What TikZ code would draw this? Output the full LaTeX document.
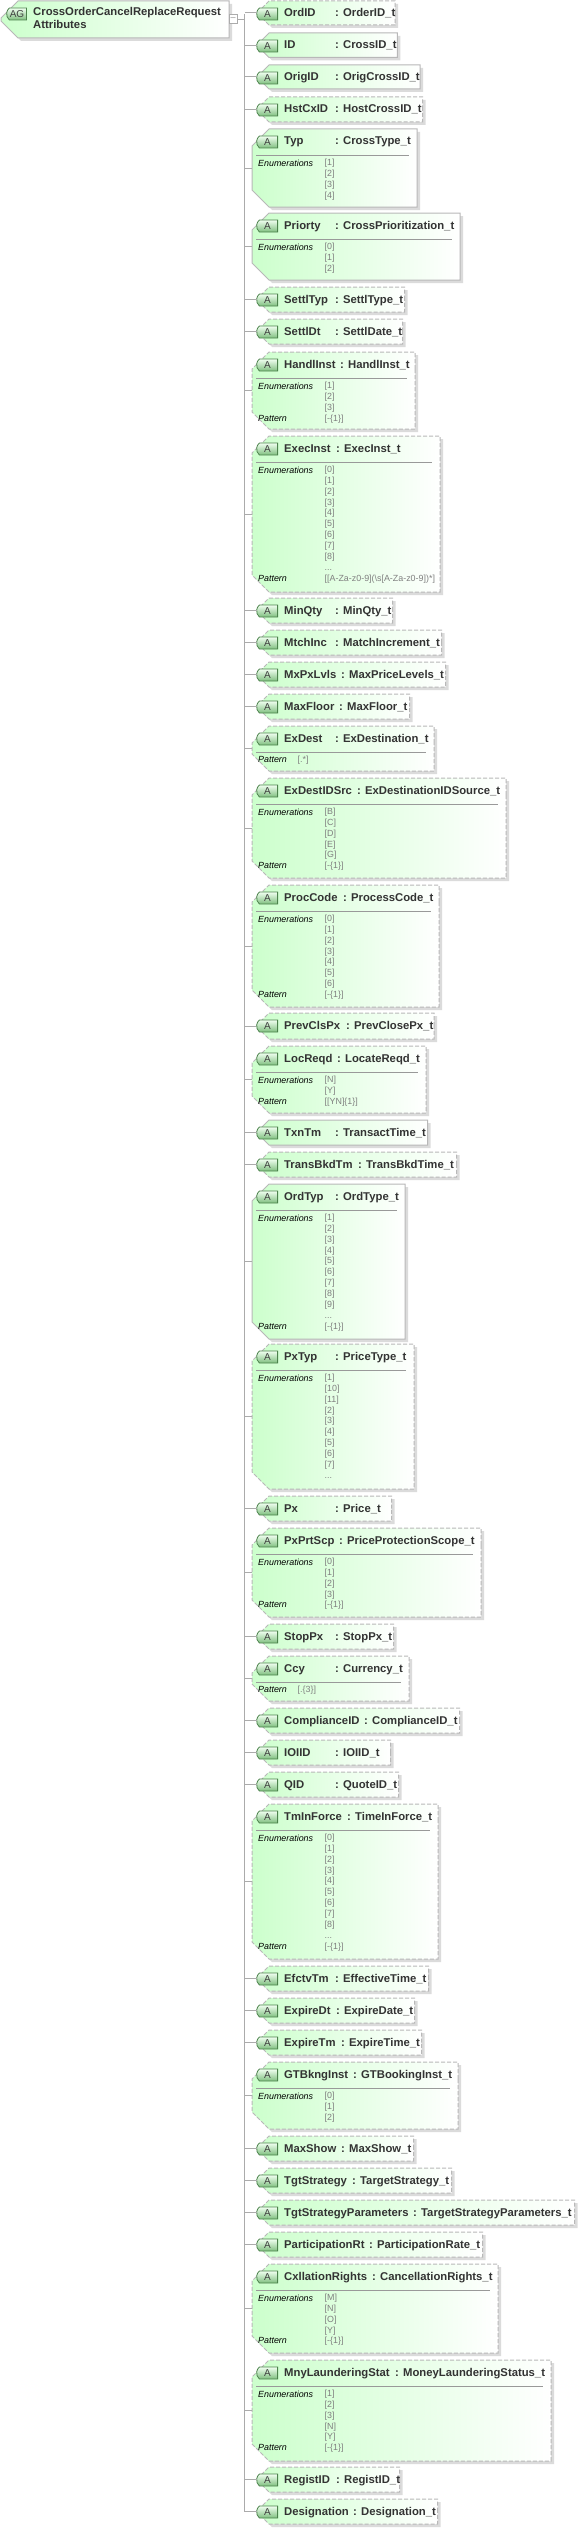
\documentclass[tikz,border=0pt]{standalone}
\usepackage{fontspec}
\setmainfont{Liberation Sans}
\usetikzlibrary{shapes.misc}
\begin{document}
\begin{tikzpicture}[x=1pt,y=-1pt,line join=miter,
    link/.style={draw=black!33,line width=1pt},
    attbase/.style={chamfered rectangle,chamfered rectangle corners={north west,south west},
      chamfered rectangle xsep=8pt,chamfered rectangle ysep=9pt,inner sep=0pt,outer sep=0pt,
      draw=black!28,line width=1pt,left color=green!20,right color=white,
      preaction={draw=none,fill=black!14,transform canvas={shift={(3pt,-3pt)}}}},
    attsolid/.style={attbase},
    attdash/.style={attbase,dash pattern=on 4pt off 2pt},
    badge/.style={rounded rectangle,rounded rectangle right arc=none,rounded rectangle arc length=100,
      inner sep=0pt,outer sep=0pt,minimum height=12pt,draw=green!30!black!70,line width=.8pt,
      top color=green!6,bottom color=green!50!black!50,text=black!75,font=\fontsize{10}{10}\selectfont},
    nametext/.style={anchor=base west,inner sep=0pt,text=black!80,font=\fontsize{11.3}{12.7}\selectfont\bfseries},
    facetname/.style={anchor=base west,inner sep=0pt,font=\fontsize{8.9}{10}\selectfont\itshape},
    facetval/.style={anchor=base west,inner sep=0pt,text=black!50,font=\fontsize{8.9}{10}\selectfont},
    rulerow/.style={draw=black!40,line width=.8pt}]

  \useasboundingbox (0,0) rectangle (584,2529);
  \coordinate (bustop) at (244.5,14);

  % Attribute box: id, style, top, bottom, right, name, type, colon position
  \def\attrib#1#2#3#4#5#6#7#8{%
    \node[#2] (#1) at (#5/2+126,#3/2+#4/2) {\phantom{\rule{\dimexpr#5pt-268pt\relax}{\dimexpr#4pt-#3pt-18pt\relax}}};
    \node[badge,minimum width=21pt] (#1-badge) at (267.5,#3+13) {A};
    \node[nametext] (#1-name) at (284,#3+16) {#6};
    \node[nametext] (#1-type) at (#8,#3+16) {: #7};
    \draw[link] (#1.west) -- (#1.west -| bustop);
  }
  % Divider under the head of a box
  \def\headrule#1#2{\draw[rulerow] (256,#1+26) -- (#2-8,#1+26);}
  % Enumeration rows
  \def\enumrows#1#2#3{%
    \node[facetname] (#1-enum) at (258,#2+37) {Enumerations};
    \foreach \val [count=\k from 0] in {#3}
      \node[facetval] (#1-v\k) at (324.5,#2+36.5+\k*10.85) {[\val]};
  }
  % Row of dots, and pattern row: id, top, row number, value position, text
  \def\morerow#1#2#3{\node[facetval] (#1-more) at (324.5,#2+36.5+#3*10.85) {...};}
  \def\patrow#1#2#3#4#5{%
    \node[facetname] (#1-pat) at (258,#2+36.5+#3*10.85) {Pattern};
    \node[facetval] (#1-patv) at (#4,#2+36.5+#3*10.85) {#5};
  }

  % Head box
  \node[attbase] (group) at (115,19.5) {\phantom{\rule{212pt}{19pt}}};
  \node[badge,minimum width=20pt] (group-badge) at (17,14) {AG};
  \node[nametext,align=left,anchor=north west] (group-name) at (33,7.5) {CrossOrderCancelReplaceRequest\\Attributes};
  \node[draw=black!33,fill=white,line width=1pt,inner sep=0pt,minimum width=8pt,minimum height=9pt,
    text=black!45,font=\fontsize{9}{9}\selectfont] (minus) at (233,19.5) {--};
  \draw[link] (minus) -- (minus -| bustop);

  % Attributes
  \attrib{ordid}{attdash}{1}{25}{400}{OrdID}{OrderID\_t}{335}
  \attrib{id}{attsolid}{33}{57.5}{402}{ID}{CrossID\_t}{335}
  \attrib{origid}{attsolid}{65}{89}{425}{OrigID}{OrigCrossID\_t}{335}
  \attrib{hstcxid}{attdash}{97}{122}{427}{HstCxID}{HostCrossID\_t}{335}
  \attrib{typ}{attsolid}{129}{207}{417}{Typ}{CrossType\_t}{335}
  \headrule{129}{417}
  \enumrows{typ}{129}{1,2,3,4}
  \attrib{priorty}{attsolid}{213}{280}{460}{Priorty}{CrossPrioritization\_t}{335}
  \headrule{213}{460}
  \enumrows{priorty}{213}{0,1,2}
  \attrib{settltyp}{attdash}{287}{312}{409}{SettlTyp}{SettlType\_t}{335}
  \attrib{settldt}{attdash}{319}{344}{407}{SettlDt}{SettlDate\_t}{335}
  \attrib{handlinst}{attdash}{352}{429}{415}{HandlInst}{HandlInst\_t}{340}
  \headrule{352}{415}
  \enumrows{handlinst}{352}{1,2,3}
  \patrow{handlinst}{352}{3}{324.5}{[-\{1\}]}
  \attrib{execinst}{attdash}{436}{592}{440}{ExecInst}{ExecInst\_t}{336}
  \headrule{436}{440}
  \enumrows{execinst}{436}{0,1,2,3,4,5,6,7,8}
  \morerow{execinst}{436}{9}
  \patrow{execinst}{436}{10}{324.5}{[[A-Za-z0-9](\textbackslash s[A-Za-z0-9])*]}
  \attrib{minqty}{attdash}{598}{623}{397}{MinQty}{MinQty\_t}{335}
  \attrib{mtchinc}{attdash}{630}{655}{446}{MtchInc}{MatchIncrement\_t}{335}
  \attrib{mxpxlvls}{attdash}{662}{687}{450}{MxPxLvls}{MaxPriceLevels\_t}{341}
  \attrib{maxfloor}{attdash}{694}{719}{414}{MaxFloor}{MaxFloor\_t}{339}
  \attrib{exdest}{attdash}{726}{771}{434}{ExDest}{ExDestination\_t}{335}
  \headrule{726}{434}
  \patrow{exdest}{726}{0}{297.5}{[.*]}
  \attrib{exdestsrc}{attdash}{778}{878}{506}{ExDestIDSrc}{ExDestinationIDSource\_t}{357}
  \headrule{778}{506}
  \enumrows{exdestsrc}{778}{B,C,D,E,G}
  \patrow{exdestsrc}{778}{5}{324.5}{[-\{1\}]}
  \attrib{proccode}{attdash}{885}{1007}{439}{ProcCode}{ProcessCode\_t}{343}
  \headrule{885}{439}
  \enumrows{proccode}{885}{0,1,2,3,4,5,6}
  \patrow{proccode}{885}{7}{324.5}{[-\{1\}]}
  \attrib{prevclspx}{attdash}{1013}{1039}{438}{PrevClsPx}{PrevClosePx\_t}{346}
  \attrib{locreqd}{attdash}{1046}{1113}{426}{LocReqd}{LocateReqd\_t}{337}
  \headrule{1046}{426}
  \enumrows{locreqd}{1046}{N,Y}
  \patrow{locreqd}{1046}{2}{324.5}{[[YN]\{1\}]}
  \attrib{txntm}{attsolid}{1120}{1145}{432}{TxnTm}{TransactTime\_t}{335}
  \attrib{transbkdtm}{attdash}{1152}{1177}{461}{TransBkdTm}{TransBkdTime\_t}{358}
  \attrib{ordtyp}{attsolid}{1184}{1339}{405}{OrdTyp}{OrdType\_t}{335}
  \headrule{1184}{405}
  \enumrows{ordtyp}{1184}{1,2,3,4,5,6,7,8,9}
  \morerow{ordtyp}{1184}{9}
  \patrow{ordtyp}{1184}{10}{324.5}{[-\{1\}]}
  \attrib{pxtyp}{attdash}{1344}{1489}{414}{PxTyp}{PriceType\_t}{335}
  \headrule{1344}{414}
  \enumrows{pxtyp}{1344}{1,10,11,2,3,4,5,6,7}
  \morerow{pxtyp}{1344}{9}
  \attrib{px}{attdash}{1496}{1521}{396}{Px}{Price\_t}{335}
  \attrib{pxprtscp}{attdash}{1528}{1617}{481}{PxPrtScp}{PriceProtectionScope\_t}{339}
  \headrule{1528}{481}
  \enumrows{pxprtscp}{1528}{0,1,2,3}
  \patrow{pxprtscp}{1528}{4}{324.5}{[-\{1\}]}
  \attrib{stoppx}{attdash}{1624}{1649}{398}{StopPx}{StopPx\_t}{335}
  \attrib{ccy}{attdash}{1656}{1701}{409}{Ccy}{Currency\_t}{335}
  \headrule{1656}{409}
  \patrow{ccy}{1656}{0}{297.5}{[.\{3\}]}
  \attrib{complianceid}{attdash}{1708}{1733}{464}{ComplianceID}{ComplianceID\_t}{364}
  \attrib{ioiid}{attdash}{1740}{1765}{395}{IOIID}{IOIID\_t}{335}
  \attrib{qid}{attdash}{1772}{1797}{403}{QID}{QuoteID\_t}{335}
  \attrib{tminforce}{attdash}{1804}{1959}{438}{TmInForce}{TimeInForce\_t}{347}
  \headrule{1804}{438}
  \enumrows{tminforce}{1804}{0,1,2,3,4,5,6,7,8}
  \morerow{tminforce}{1804}{9}
  \patrow{tminforce}{1804}{10}{324.5}{[-\{1\}]}
  \attrib{efctvtm}{attdash}{1966}{1991}{433}{EfctvTm}{EffectiveTime\_t}{335}
  \attrib{expiredt}{attdash}{1998}{2023}{419}{ExpireDt}{ExpireDate\_t}{336}
  \attrib{expiretm}{attdash}{2030}{2055}{426}{ExpireTm}{ExpireTime\_t}{341}
  \attrib{gtbkng}{attdash}{2062}{2129}{458}{GTBkngInst}{GTBookingInst\_t}{353}
  \headrule{2062}{458}
  \enumrows{gtbkng}{2062}{0,1,2}
  \attrib{maxshow}{attdash}{2136}{2161}{418}{MaxShow}{MaxShow\_t}{341}
  \attrib{tgtstrategy}{attdash}{2168}{2193}{456}{TgtStrategy}{TargetStrategy\_t}{352}
  \attrib{tgtparams}{attdash}{2200}{2225}{579}{TgtStrategyParameters}{TargetStrategyParameters\_t}{413}
  \attrib{participation}{attdash}{2232}{2257}{487}{ParticipationRt}{ParticipationRate\_t}{369}
  \attrib{cxllation}{attdash}{2264}{2353}{498}{CxllationRights}{CancellationRights\_t}{372}
  \headrule{2264}{498}
  \enumrows{cxllation}{2264}{M,N,O,Y}
  \patrow{cxllation}{2264}{4}{324.5}{[-\{1\}]}
  \attrib{mnylaunder}{attdash}{2360}{2461}{551}{MnyLaunderingStat}{MoneyLaunderingStatus\_t}{395}
  \headrule{2360}{551}
  \enumrows{mnylaunder}{2360}{1,2,3,N,Y}
  \patrow{mnylaunder}{2360}{5}{324.5}{[-\{1\}]}
  \attrib{registid}{attdash}{2467}{2492}{404}{RegistID}{RegistID\_t}{336}
  \attrib{designation}{attdash}{2499}{2524}{442}{Designation}{Designation\_t}{353}

  % Trunk
  \draw[link] (bustop) -- (designation.west -| bustop);
\end{tikzpicture}
\end{document}
